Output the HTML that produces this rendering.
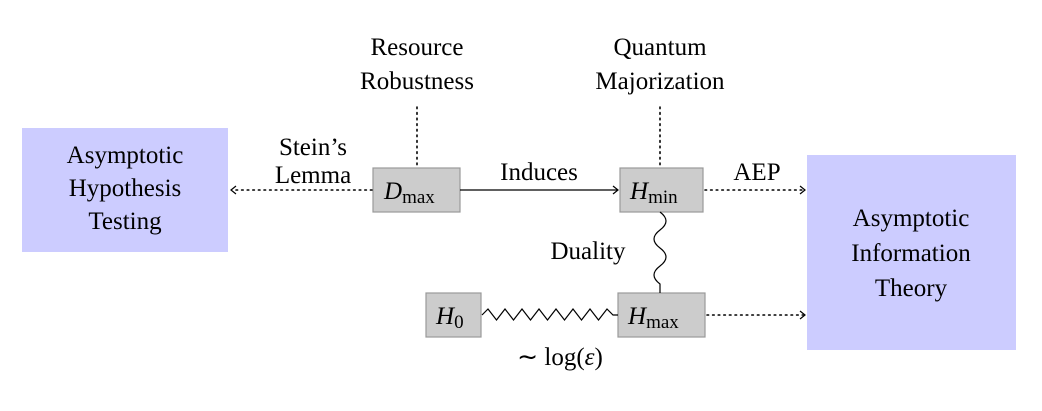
<!DOCTYPE html>
<html><head><style>
html,body{margin:0;padding:0;background:#fff;}
svg{display:block;}
text{font-family:"Liberation Serif",serif;fill:#000;}
</style></head><body>
<svg width="1042" height="411" viewBox="0 0 1042 411" xmlns="http://www.w3.org/2000/svg">
<rect x="22" y="128" width="206" height="124" fill="#ccccff"/>
<rect x="807" y="155" width="209" height="195" fill="#ccccff"/>
<g font-size="25" text-anchor="middle">
<text x="125" y="163">Asymptotic</text>
<text x="125" y="196">Hypothesis</text>
<text x="125" y="229">Testing</text>
<text x="911" y="226">Asymptotic</text>
<text x="911" y="261">Information</text>
<text x="911" y="296">Theory</text>
<text x="417" y="55">Resource</text>
<text x="417" y="89">Robustness</text>
<text x="660" y="55">Quantum</text>
<text x="660" y="89">Majorization</text>
<text x="313" y="155">Stein’s</text>
<text x="313" y="183">Lemma</text>
<text x="539" y="180">Induces</text>
<text x="757" y="180">AEP</text>
<text x="588" y="259">Duality</text>
<text x="560" y="365">∼ log(<tspan font-style="italic">ε</tspan>)</text>
</g>
<!-- grey boxes -->
<g fill="#cccccc" stroke="#999" stroke-width="1.2">
<rect x="373" y="168" width="87" height="44"/>
<rect x="620" y="168" width="83" height="44"/>
<rect x="618" y="293" width="87" height="44"/>
<rect x="426" y="293" width="55" height="44"/>
</g>
<g font-size="25">
<text x="384" y="199" font-style="italic">D<tspan font-style="normal" font-size="19" dy="4">max</tspan></text>
<text x="630" y="199" font-style="italic">H<tspan font-style="normal" font-size="19" dy="4">min</tspan></text>
<text x="628" y="324" font-style="italic">H<tspan font-style="normal" font-size="19" dy="4">max</tspan></text>
<text x="436" y="324" font-style="italic">H<tspan font-style="normal" font-size="19" dy="4">0</tspan></text>
</g>
<g stroke="#000" stroke-width="1.6" fill="none">
<line x1="417" y1="107" x2="417" y2="167" stroke-dasharray="1.6 4" stroke-linecap="round"/>
<line x1="660" y1="107" x2="660" y2="167" stroke-dasharray="1.6 4" stroke-linecap="round"/>
<line x1="372" y1="190" x2="233" y2="190" stroke-dasharray="1.6 4" stroke-linecap="round"/>
<path d="M236 186 L231 190 L236 194" stroke-width="1.2"/>
<line x1="705" y1="190" x2="803" y2="190" stroke-dasharray="1.6 4" stroke-linecap="round"/>
<path d="M800 186 L805 190 L800 194" stroke-width="1.2"/>
<line x1="707" y1="315" x2="803" y2="315" stroke-dasharray="1.6 4" stroke-linecap="round"/>
<path d="M800 311 L805 315 L800 319" stroke-width="1.2"/>
<line x1="460" y1="190" x2="617" y2="190" stroke-width="1.3"/>
<path d="M613 186 L618 190 L613 194" stroke-width="1.2"/>
<path d="M482 315 L488 309 L496.5 320 L505 309 L513.5 320 L522 309 L530.5 320 L539 309 L547.5 320 L556 309 L564.5 320 L573 309 L581.5 320 L590 309 L598.5 320 L607 309 L613 315 L618 315" stroke-width="1.2"/>
<path d="M660 212 C668 218 668 224 660 230 C652 236 652 242 660 248 C668 254 668 260 660 266 C652 272 652 278 660 284 L660 293" stroke-width="1.2"/>
</g>
</svg>
</body></html>
